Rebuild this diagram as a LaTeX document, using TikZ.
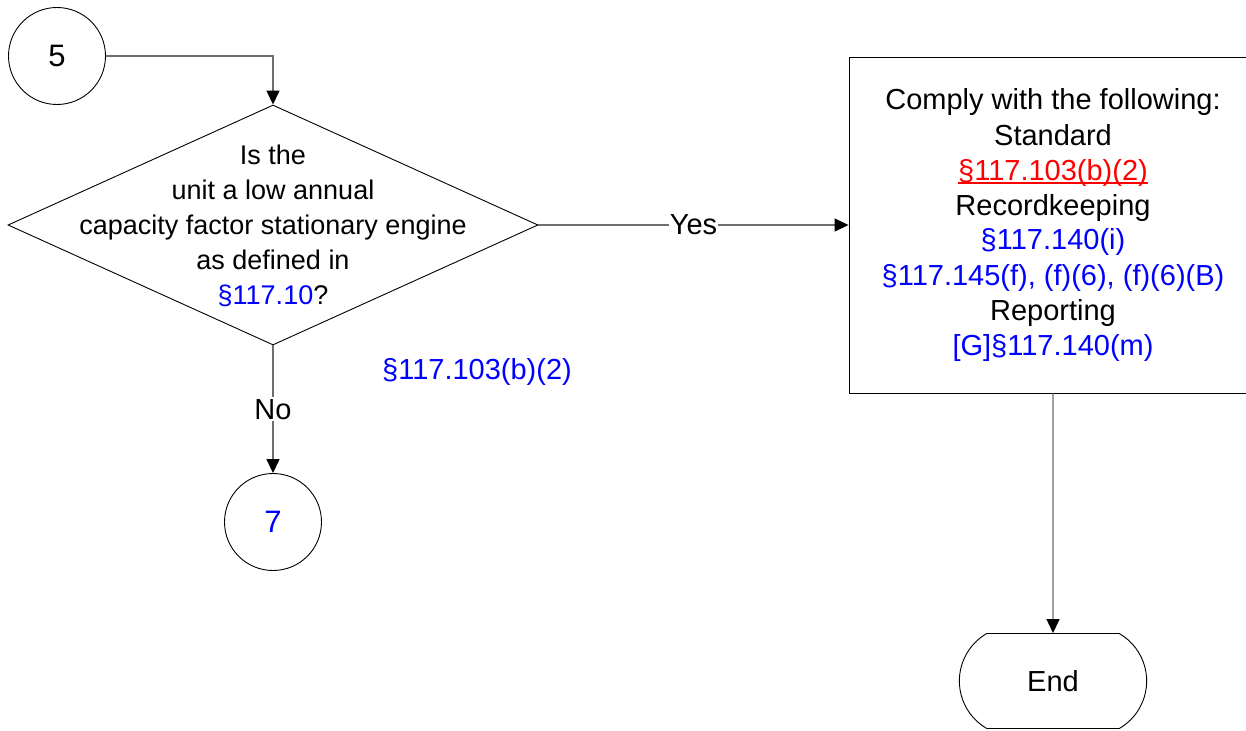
\documentclass[tikz,border=0pt]{standalone}
\usepackage{fontspec}
\setmainfont{Liberation Sans}
\usepackage{tikz}
\usetikzlibrary{shapes,arrows.meta}
\definecolor{refblue}{RGB}{0,0,255}
\definecolor{refred}{RGB}{255,0,0}
\definecolor{linegray}{RGB}{110,110,110}
\newcommand\redref[1]{\setbox0\hbox{#1}\textcolor{refred}{\rlap{\rule[-4pt]{\wd0}{1.6pt}}\box0}}

\begin{document}
\begin{tikzpicture}[x=1pt, y=-1pt,
    every node/.style={font=\fontsize{29}{35}\selectfont},
    conn/.style={draw=linegray, line width=1.4pt, -{Triangle[length=14pt, width=13pt, color=black]}},
    link/.style={text=refblue},
    onpage/.style={circle, draw, line width=0.9pt, minimum size=97pt, inner sep=0pt, font=\fontsize{31}{35}\selectfont}]
  \useasboundingbox (0,0) rectangle (1246,730);
  % connectors on page
  \node (p5) [onpage] at (57,56) {5};
  \node (p7) [onpage, link] at (273,522) {7};
  % decision
  \node (q) [diamond, draw, line width=0.9pt, minimum width=530pt, minimum height=240pt, inner sep=0pt] at (273,225) {};
  \node (qtext) [align=center, font=\fontsize{27}{35}\selectfont] at (273,226)
        {Is the\\unit a low annual\\capacity factor stationary engine\\as defined in\\{\color{refblue}§117.10}?};
  \node (ref) [link] at (477,372) {§117.103(b)(2)};
  % requirements box
  \node (comply) [draw, line width=0.9pt, minimum width=408pt, minimum height=336pt, align=center] at (1053,225)
        {Comply with the following:\\Standard\\{\color{refred}\redref{§117.103(b)(2)}}\\Recordkeeping\\
         {\color{refblue}§117.140(i)}\\{\color{refblue}§117.145(f), (f)(6), (f)(6)(B)}\\Reporting\\{\color{refblue}[G]§117.140(m)}};
  \node (stop) [rounded rectangle, rounded rectangle arc length=120, draw, line width=0.9pt,
        minimum width=194pt, minimum height=95pt] at (1053,681) {End};
  \draw [conn] (p5) -| (q);
  \draw [conn] (q) -- node (yes) [fill=white, inner sep=1pt] {Yes} (comply);
  \draw [conn] (q) -- node (no) [fill=white, inner sep=2pt] {No} (p7);
  \draw [conn] (comply) -- (stop);
\end{tikzpicture}
\end{document}
